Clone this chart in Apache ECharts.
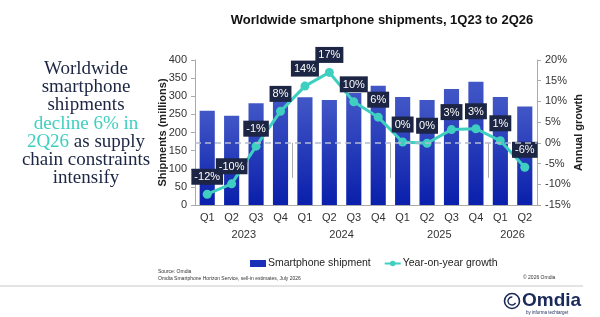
<!DOCTYPE html>
<html>
<head>
<meta charset="utf-8">
<script src="https://cdn.jsdelivr.net/npm/echarts@6/dist/echarts.min.js"></script>
<style>
	html, body { margin: 0; padding: 0; background: #fff; }
	#chart { width: 600px; height: 317px; }
</style>
</head>
<body>
<div id="chart"></div>
<script>
var quarters = ['Q1', 'Q2', 'Q3', 'Q4', 'Q1', 'Q2', 'Q3', 'Q4', 'Q1', 'Q2', 'Q3', 'Q4', 'Q1', 'Q2'];
var years = ['2023', '2024', '2025', '2026'];
var yearCenters = [2, 6, 10, 13];
var yearBounds = [0, 4, 8, 12, 14];
var shipments = [260, 246, 281, 310, 297, 290, 309, 329, 298, 290, 320, 340, 298, 272];
var growth = [-12.4, -9.9, -0.8, 7.6, 13.7, 17.0, 9.9, 6.2, 0.2, -0.1, 3.2, 3.4, 0.5, -5.9];

var navy = '#1c2543';
var teal = '#3fcfc0';

var chart = echarts.init(document.getElementById('chart'));

var option = {
	backgroundColor: '#fff',
	animation: false,
	textStyle: { fontFamily: 'Liberation Sans, Arial, sans-serif' },
	title: {
		text: 'Worldwide smartphone shipments, 1Q23 to 2Q26',
		left: 377,
		textAlign: 'center',
		top: 9,
		textStyle: { fontSize: 13, fontWeight: 'bold', color: '#111' }
	},
	legend: {
		left: 250,
		top: 258,
		padding: 0,
		itemGap: 13,
		itemWidth: 16,
		itemHeight: 7,
		textStyle: { fontSize: 10.5, color: '#222', padding: [0, 0, 0, -3] },
		data: [
			{ name: 'Smartphone shipment', icon: 'rect', itemStyle: { color: '#1a30b8' } },
			{ name: 'Year-on-year growth' }
		]
	},
	grid: { left: 195, right: 63, top: 60, bottom: 112 },
	xAxis: [{
		type: 'category',
		data: quarters,
		axisLine: { lineStyle: { color: '#aaa' } },
		axisTick: { show: false },
		axisLabel: { fontSize: 11, color: '#333', margin: 7 }
	}, {
		type: 'value',
		min: 0,
		max: 14,
		position: 'bottom',
		axisLine: { show: false },
		splitLine: { show: false },
		axisTick: {
			show: true,
			customValues: yearBounds,
			length: 35,
			lineStyle: { color: '#aaa' }
		},
		axisLabel: {
			fontSize: 11,
			color: '#333',
			margin: 24,
			customValues: yearCenters,
			formatter: function (v) {
				return years[yearCenters.indexOf(v)];
			}
		}
	}],
	yAxis: [{
		type: 'value',
		min: 0,
		max: 400,
		interval: 50,
		name: 'Shipments (millions)',
		nameLocation: 'middle',
		nameRotate: 90,
		nameGap: 27,
		nameMoveOverlap: false,
		nameTextStyle: { fontSize: 11, fontWeight: 'bold', color: '#222' },
		axisLine: { show: true, lineStyle: { color: '#aaa' } },
		axisTick: { show: true, length: 4, lineStyle: { color: '#aaa' } },
		axisLabel: { fontSize: 11, color: '#333', margin: 8 },
		splitLine: { show: false }
	}, {
		type: 'value',
		min: -15,
		max: 20,
		interval: 5,
		name: 'Annual growth',
		nameLocation: 'middle',
		nameRotate: 90,
		nameGap: 36,
		nameMoveOverlap: false,
		nameTextStyle: { fontSize: 11, fontWeight: 'bold', color: '#222' },
		axisLine: { show: true, lineStyle: { color: '#aaa' } },
		axisTick: { show: true, length: 4, lineStyle: { color: '#aaa' } },
		axisLabel: { fontSize: 11, color: '#333', margin: 8, formatter: '{value}%' },
		splitLine: { show: false }
	}],
	series: [{
		name: 'Smartphone shipment',
		type: 'bar',
		data: shipments,
		barWidth: '62%',
		itemStyle: {
			color: new echarts.graphic.LinearGradient(0, 0, 0, 1, [
				{ offset: 0, color: '#4257c6' },
				{ offset: 1, color: '#0a1fab' }
			])
		}
	}, {
		name: 'Year-on-year growth',
		type: 'line',
		yAxisIndex: 1,
		data: growth,
		symbol: 'circle',
		symbolSize: 9,
		lineStyle: { color: teal, width: 3 },
		itemStyle: { color: teal },
		label: {
			show: true,
			position: 'top',
			distance: 5,
			color: '#fff',
			fontSize: 11,
			backgroundColor: navy,
			padding: [3, 3, 2, 3],
			formatter: function (p) {
				return Math.round(p.value) + '%';
			}
		},
		markLine: {
			silent: true,
			symbol: 'none',
			label: { show: false },
			lineStyle: { color: '#b4bccf', type: [6, 4], width: 1.5 },
			data: [{ yAxis: 0 }]
		}
	}],
	graphic: [{
		type: 'text',
		x: 86,
		y: 60,
		style: {
			text: [
				'{n|Worldwide}',
				'{n|smartphone}',
				'{n|shipments}',
				'{t|decline 6% in}',
				'{t|2Q26}{n| as supply}',
				'{n|chain constraints}',
				'{n|intensify}'
			].join('\n'),
			align: 'center',
			verticalAlign: 'top',
			rich: {
				n: { fontFamily: 'Liberation Serif, serif', fontSize: 19, lineHeight: 18.2, fill: navy },
				t: { fontFamily: 'Liberation Serif, serif', fontSize: 19, lineHeight: 18.2, fill: teal }
			}
		}
	}, {
		type: 'text',
		x: 158,
		y: 268,
		style: {
			text: 'Source: Omdia\nOmdia Smartphone Horizon Service, sell-in estimates, July 2026',
			fontSize: 5,
			lineHeight: 7,
			fill: '#333'
		}
	}, {
		type: 'text',
		x: 523,
		y: 275,
		style: { text: '\u00a9 2026 Omdia', fontSize: 5, fill: '#333' }
	}, {
		type: 'line',
		shape: { x1: 0, y1: 286, x2: 583, y2: 286 },
		style: { stroke: '#c8c8c8', lineWidth: 1 }
	}, {
		type: 'circle',
		shape: { cx: 512, cy: 301, r: 7.5 },
		style: { fill: 'none', stroke: '#1b2a5a', lineWidth: 1.6 }
	}, {
		type: 'arc',
		shape: { cx: 512, cy: 301, r: 4, startAngle: 0.5, endAngle: 4.8 },
		style: { fill: 'none', stroke: '#1b2a5a', lineWidth: 1.4 }
	}, {
		type: 'text',
		x: 522,
		y: 291,
		style: { text: 'Omdia', fontSize: 19, fontWeight: 'bold', fill: '#1b2a5a' }
	}, {
		type: 'text',
		x: 526,
		y: 310,
		style: { text: 'by informa techtarget', fontSize: 4.5, fill: '#1b2a5a' }
	}]
};

chart.setOption(option);
</script>
</body>
</html>
